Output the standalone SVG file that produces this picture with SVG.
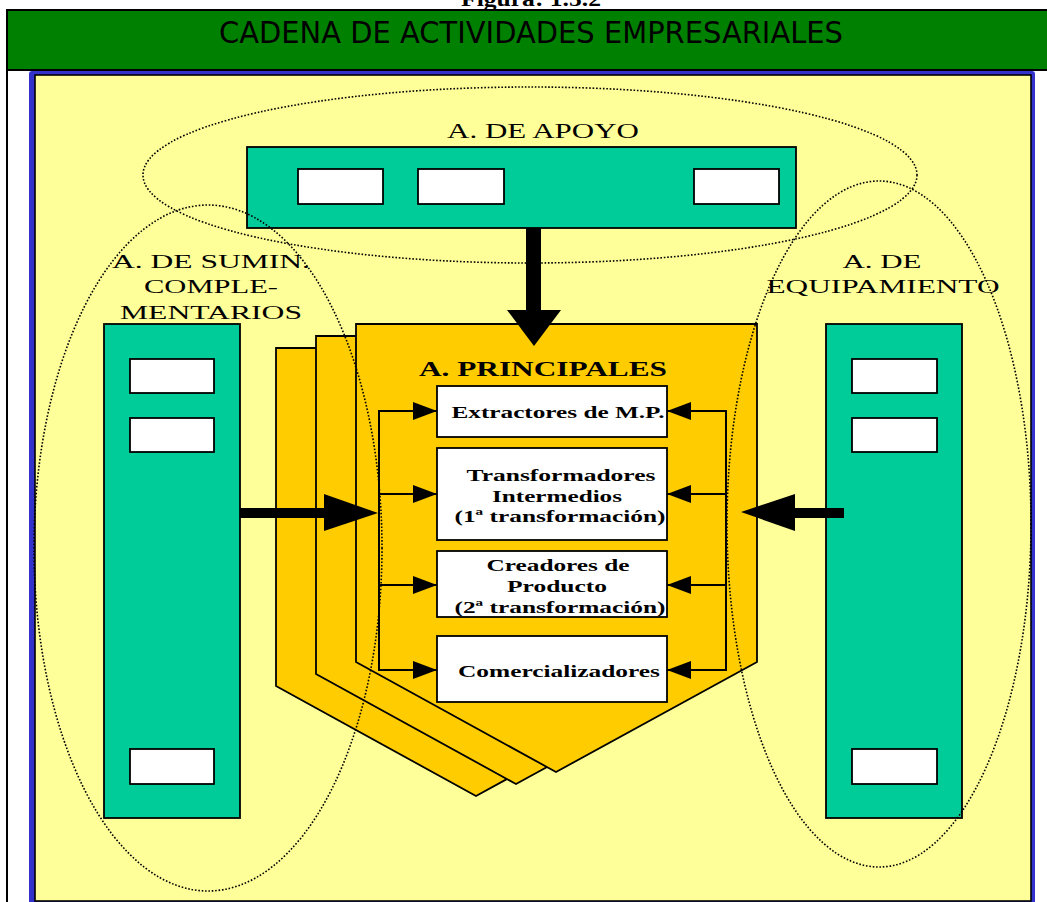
<svg xmlns="http://www.w3.org/2000/svg" width="1047" height="902" viewBox="0 0 1047 902">
  <defs>
    <style>
      .teal { fill: #00CC99; stroke: #000; stroke-width: 1.8; }
      .slot { fill: #FFFFFF; stroke: #000; stroke-width: 1.8; }
      .gold { fill: #FFCC00; stroke: #000; stroke-width: 1.8; stroke-linejoin: miter; }
      .box { fill: #FFFFFF; stroke: #000; stroke-width: 1.8; }
      .link { fill: none; stroke: #000; stroke-width: 2; }
      .zone { fill: none; stroke: #000; stroke-width: 1.6; stroke-dasharray: 1.6 1.8; }
      .lbl { font-family: "Liberation Serif", "Times New Roman", serif; fill: #000; text-anchor: middle; }
      .bold { font-weight: bold; }
    </style>
    <marker id="tri" viewBox="0 0 24 18" refX="24" refY="9" markerWidth="24" markerHeight="18" markerUnits="userSpaceOnUse" orient="auto">
      <path d="M0,0 L24,9 L0,18 Z" fill="#000"/>
    </marker>
  </defs>

  <!-- page background -->
  <rect x="0" y="0" width="1047" height="902" fill="#FFFFFF"/>
  <text class="lbl bold" x="531" y="6" font-size="20" textLength="140" lengthAdjust="spacingAndGlyphs">Figura: 1.5.2</text>

  <!-- heading band -->
  <g id="heading">
    <rect x="7" y="10" width="1050" height="60" fill="#008000" stroke="#000" stroke-width="2"/>
    <line x1="7" y1="70" x2="7" y2="902" stroke="#000" stroke-width="2"/>
    <text x="531" y="43" font-family="DejaVu Sans, sans-serif" font-size="31" text-anchor="middle" fill="#000" textLength="624" lengthAdjust="spacingAndGlyphs">CADENA DE ACTIVIDADES EMPRESARIALES</text>
  </g>

  <!-- framed panel -->
  <g id="panel">
    <rect x="29" y="71" width="1006" height="840" rx="3" fill="#3333CC"/>
    <rect x="35" y="75" width="996" height="826" fill="#FFFF99" stroke="#000" stroke-width="1.6"/>
  </g>

  <!-- support activities -->
  <g id="apoyo">
    <rect class="teal" x="247" y="147" width="549" height="81"/>
    <rect class="slot" x="298" y="169" width="85" height="35"/>
    <rect class="slot" x="418" y="169" width="86" height="35"/>
    <rect class="slot" x="694" y="169" width="85" height="35"/>
    <text class="lbl" x="543" y="138" font-size="21" textLength="192" lengthAdjust="spacingAndGlyphs">A. DE APOYO</text>
  </g>

  <!-- complementary supplies -->
  <g id="suministros">
    <rect class="teal" x="104" y="324" width="136" height="494"/>
    <rect class="slot" x="130" y="359" width="84" height="34"/>
    <rect class="slot" x="130" y="418" width="84" height="34"/>
    <rect class="slot" x="130" y="749" width="84" height="35"/>
    <text class="lbl" x="211" y="268" font-size="19" textLength="198" lengthAdjust="spacingAndGlyphs">A. DE  SUMIN.</text>
    <text class="lbl" x="211" y="293" font-size="19" textLength="134" lengthAdjust="spacingAndGlyphs">COMPLE-</text>
    <text class="lbl" x="211" y="319" font-size="19" textLength="182" lengthAdjust="spacingAndGlyphs">MENTARIOS</text>
  </g>

  <!-- equipment -->
  <g id="equipamiento">
    <rect class="teal" x="826" y="324" width="136" height="494"/>
    <rect class="slot" x="852" y="359" width="85" height="34"/>
    <rect class="slot" x="852" y="418" width="85" height="34"/>
    <rect class="slot" x="852" y="749" width="85" height="35"/>
    <text class="lbl" x="882" y="268" font-size="19" textLength="79" lengthAdjust="spacingAndGlyphs">A. DE</text>
    <text class="lbl" x="883" y="293" font-size="19" textLength="233" lengthAdjust="spacingAndGlyphs">EQUIPAMIENTO</text>
  </g>

  <!-- main activities (stacked chevrons) -->
  <g id="principales">
    <polygon class="gold" points="276,348 677,348 677,686 476,796 276,686"/>
    <polygon class="gold" points="316,336 717,336 717,674 516,784 316,674"/>
    <polygon class="gold" points="356,324 757,324 757,662 556,772 356,662"/>
    <text class="lbl bold" x="543" y="376" font-size="21" textLength="248" lengthAdjust="spacingAndGlyphs">A. PRINCIPALES</text>
  </g>

  <g id="extractores">
    <rect class="box" x="437" y="386" width="230" height="51"/>
    <text class="lbl bold" x="558" y="418" font-size="17" textLength="213" lengthAdjust="spacingAndGlyphs">Extractores de M.P.</text>
  </g>
  <g id="transformadores">
    <rect class="box" x="437" y="448" width="230" height="92"/>
    <text class="lbl bold" x="561" y="481" font-size="17" textLength="189" lengthAdjust="spacingAndGlyphs">Transformadores</text>
    <text class="lbl bold" x="557" y="502" font-size="17" textLength="130" lengthAdjust="spacingAndGlyphs">Intermedios</text>
    <text class="lbl bold" x="560" y="522" font-size="17" textLength="211" lengthAdjust="spacingAndGlyphs">(1ª transformación)</text>
  </g>
  <g id="creadores">
    <rect class="box" x="437" y="551" width="230" height="66"/>
    <text class="lbl bold" x="558" y="571" font-size="17" textLength="143" lengthAdjust="spacingAndGlyphs">Creadores de</text>
    <text class="lbl bold" x="557" y="592" font-size="17" textLength="100" lengthAdjust="spacingAndGlyphs">Producto</text>
    <text class="lbl bold" x="560" y="613" font-size="17" textLength="211" lengthAdjust="spacingAndGlyphs">(2ª transformación)</text>
  </g>
  <g id="comercializadores">
    <rect class="box" x="437" y="636" width="230" height="66"/>
    <text class="lbl bold" x="559" y="677" font-size="17" textLength="202" lengthAdjust="spacingAndGlyphs">Comercializadores</text>
  </g>

  <!-- connectors -->
  <g id="connectors">
    <!-- left feed bus -->
    <line class="link" x1="379" y1="410" x2="379" y2="671"/>
    <line class="link" x1="378" y1="411" x2="437" y2="411" marker-end="url(#tri)"/>
    <line class="link" x1="378" y1="494" x2="437" y2="494" marker-end="url(#tri)"/>
    <line class="link" x1="378" y1="585" x2="437" y2="585" marker-end="url(#tri)"/>
    <line class="link" x1="378" y1="670" x2="437" y2="670" marker-end="url(#tri)"/>
    <!-- right feed bus -->
    <line class="link" x1="726" y1="410" x2="726" y2="671"/>
    <line class="link" x1="727" y1="411" x2="667" y2="411" marker-end="url(#tri)"/>
    <line class="link" x1="727" y1="494" x2="667" y2="494" marker-end="url(#tri)"/>
    <line class="link" x1="727" y1="585" x2="667" y2="585" marker-end="url(#tri)"/>
    <line class="link" x1="727" y1="670" x2="667" y2="670" marker-end="url(#tri)"/>
  </g>

  <!-- activity zones -->
  <g id="zones">
    <ellipse class="zone" cx="530" cy="175" rx="387" ry="88"/>
    <ellipse class="zone" cx="208" cy="548" rx="174" ry="343"/>
    <ellipse class="zone" cx="879" cy="524" rx="152" ry="343"/>
  </g>

  <!-- main flows -->
  <g id="flows" fill="#000">
    <rect x="526" y="228" width="15" height="83"/>
    <polygon points="507,310 561,310 534,346"/>
    <rect x="240" y="508" width="86" height="10"/>
    <polygon points="324,494 378,513 324,531"/>
    <rect x="793" y="508" width="51" height="10"/>
    <polygon points="795,494 741,512 795,531"/>
  </g>
</svg>
